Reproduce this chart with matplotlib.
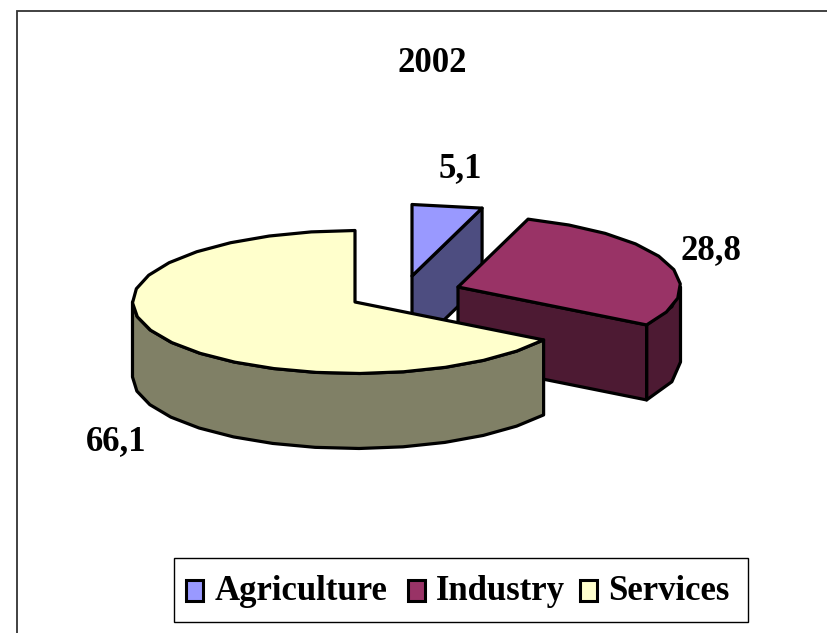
import numpy as np
import matplotlib
matplotlib.use("Agg")
import matplotlib.pyplot as plt
from matplotlib.patches import Polygon, Rectangle

title = "2002"
categories = ["Agriculture", "Industry", "Services"]
values = [5.1, 28.8, 66.1]
value_labels = ["5,1", "28,8", "66,1"]

top_colors = ["#9999ff", "#993366", "#ffffcc"]
side_colors = ["#4d4d80", "#4d1a33", "#808066"]
centers = [(412, 276), (458, 287), (355, 302)]
label_pos = [(460, 169), (711, 251), (116, 442)]
legend_swatch_x = [186, 408, 580]
legend_text_x = [215, 436, 608]

RX, RY, DEPTH = 222.5, 71.5, 75
SERIF = "Liberation Serif"

fig = plt.figure(figsize=(8.27, 6.33), dpi=100)
ax = fig.add_axes([0, 0, 1, 1])
ax.set_xlim(0, 827)
ax.set_ylim(633, 0)
ax.axis("off")

# frame
ax.plot([17, 17, 827], [633, 11, 11], color="#333333", lw=1.3, solid_joinstyle="miter")


def pt(c, a, dz=0):
    """a: clockwise degrees from 12 o'clock."""
    r = np.radians(a)
    return (c[0] + RX * np.sin(r), c[1] - RY * np.cos(r) + dz)


def arc(c, a0, a1, dz=0, step=11.0):
    n = max(2, int(abs(a1 - a0) / step) + 1)
    return [pt(c, a, dz) for a in np.linspace(a0, a1, n)]


def poly(points, color, z):
    ax.add_patch(Polygon(points, closed=True, facecolor=color, edgecolor="black",
                         lw=2.3, joinstyle="round", zorder=z))


# slice boundaries, clockwise from 12 o'clock, from the values
total = sum(values)
starts = np.cumsum([0] + values[:-1]) / total * 360
ends = np.cumsum(values) / total * 360

# Agriculture
c = centers[0]
a0, a1 = starts[0], ends[0]
poly([c, pt(c, a1), pt(c, a1, DEPTH), (c[0], c[1] + DEPTH)], side_colors[0], 2)
poly([c] + arc(c, a0, a1), top_colors[0], 3)

# Industry
c = centers[1]
a0, a1 = starts[1], ends[1]
poly(arc(c, 90, a1) + arc(c, a1, 90, DEPTH), side_colors[1], 4)
poly([c, pt(c, a1), pt(c, a1, DEPTH), (c[0], c[1] + DEPTH)], side_colors[1], 4)
poly([c] + arc(c, a0, a1), top_colors[1], 5)

# Services
c = centers[2]
a0, a1 = starts[2], ends[2]
poly(arc(c, a0, 270) + arc(c, 270, a0, DEPTH), side_colors[2], 6)
poly([c] + arc(c, a0, a1), top_colors[2], 7)

# value labels and title
for (x, y), s in zip(label_pos, value_labels):
    ax.text(x, y, s, family=SERIF, weight="bold", fontsize=25, ha="center",
            va="center", color="black", zorder=10)
ax.text(432, 63, title, family=SERIF, weight="bold", fontsize=25, ha="center",
        va="center", color="black", zorder=10)

# legend
ax.add_patch(Rectangle((174, 558), 574, 64, facecolor="white", edgecolor="black",
                       lw=1.0, zorder=10))
for name, col, sx, tx in zip(categories, top_colors, legend_swatch_x, legend_text_x):
    ax.add_patch(Rectangle((sx, 580), 17, 21, facecolor=col, edgecolor="black",
                           lw=2.2, zorder=11))
    ax.text(tx, 592, name, family=SERIF, weight="bold", fontsize=25, ha="left",
            va="center", color="black", zorder=11)

fig.savefig("out.png", dpi=100)
